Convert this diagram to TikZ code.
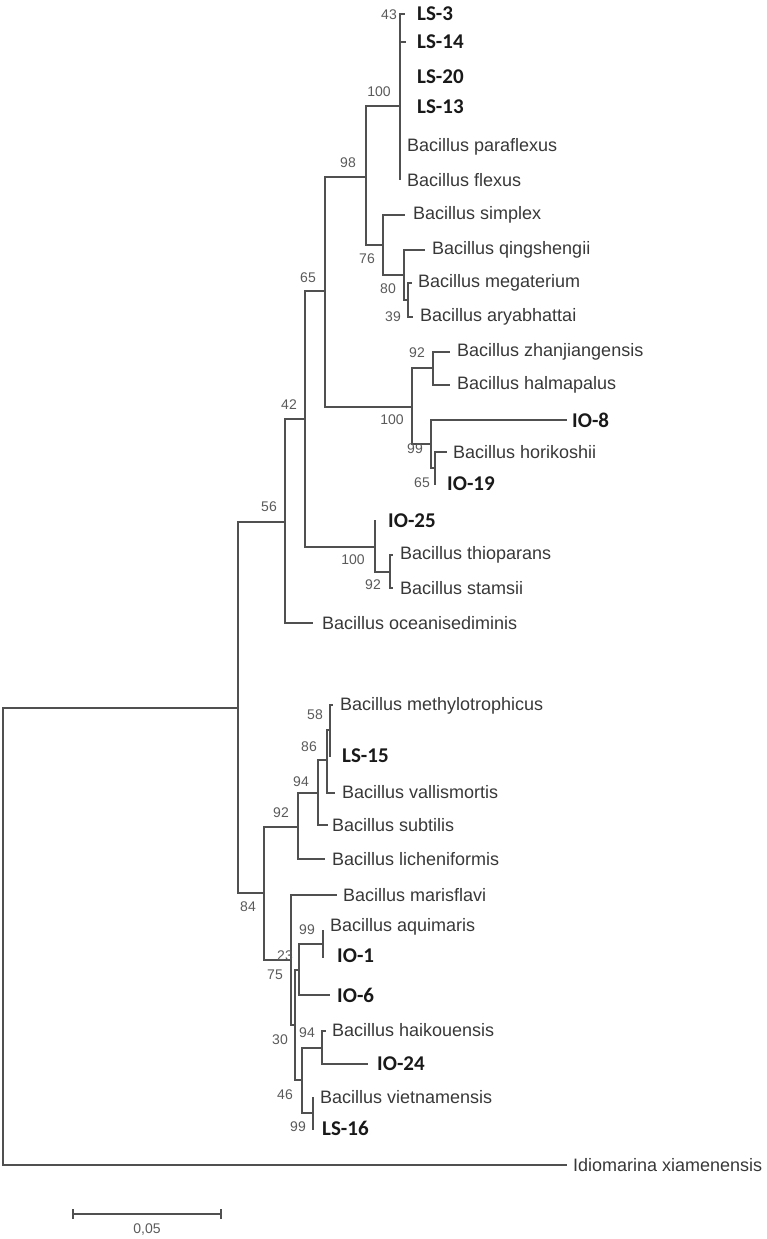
\documentclass[tikz,border=0pt]{standalone}
\usepackage{fontspec}
\setmainfont{Liberation Sans}
\newfontfamily\isofont{Carlito}
\usepackage{tikz}
\usepackage{xcolor}
\definecolor{linegray}{HTML}{505050}
\definecolor{taxgray}{HTML}{383838}
\definecolor{bootgray}{HTML}{5A5A5A}
\tikzset{
  branch/.style={draw=linegray,line width=1.3pt},
  taxon/.style={anchor=west,inner sep=0pt,text=taxgray,font=\fontsize{18}{20}\selectfont},
  isolate/.style={anchor=west,inner sep=0pt,text=black!90,font=\isofont\bfseries\fontsize{21}{24}\selectfont},
  boot/.style={inner sep=0pt,text=bootgray,font=\fontsize{14}{16}\selectfont}
}

\begin{document}
\begin{tikzpicture}[x=1pt,y=-1pt]
\useasboundingbox (0,0) rectangle (767,1239);
% Nos internos
\coordinate (root) at (3,936);
\coordinate (nA) at (238,708);
\coordinate (n56) at (285,522);
\coordinate (n42) at (305,419);
\coordinate (n65) at (325,291);
\coordinate (n98) at (366,177);
\coordinate (n100) at (400,106);
\coordinate (n76) at (383,245);
\coordinate (n80) at (404,275);
\coordinate (n39) at (408,300);
\coordinate (n100b) at (412,407);
\coordinate (n92) at (433,368);
\coordinate (n99) at (431,444);
\coordinate (n65b) at (435,468);
\coordinate (n100c) at (375,547);
\coordinate (n92c) at (390,572);
\coordinate (n84) at (264,893);
\coordinate (n92d) at (298,827);
\coordinate (n94) at (318,793);
\coordinate (n86) at (327,760);
\coordinate (n58) at (330,730);
\coordinate (n23) at (291,960);
\coordinate (n30) at (295,1025);
\coordinate (n75) at (299,970);
\coordinate (n99b) at (323,944);
\coordinate (n46) at (302,1080);
\coordinate (n94b) at (322,1048);
\coordinate (n99c) at (313,1113);
% Pontas dos ramos
\coordinate (ls3t) at (405,14);
\coordinate (ls14t) at (406,42);
\coordinate (ls20t) at (400,77);
\coordinate (ls13t) at (400,107);
\coordinate (paraflexust) at (400,147);
\coordinate (flexust) at (400,180);
\coordinate (simplext) at (405,215);
\coordinate (qingshengiit) at (425,250);
\coordinate (megateriumt) at (412,283);
\coordinate (aryabhattait) at (413,317);
\coordinate (zhanjiangensist) at (450,352);
\coordinate (halmapalust) at (450,385);
\coordinate (io8t) at (567,420);
\coordinate (horikoshiit) at (447,452);
\coordinate (io19t) at (436,484);
\coordinate (io25t) at (376,521);
\coordinate (thioparanst) at (393,555);
\coordinate (stamsiit) at (393,588);
\coordinate (oceanit) at (313,623);
\coordinate (methylot) at (333,705);
\coordinate (ls15t) at (330,757);
\coordinate (vallist) at (335,793);
\coordinate (subtilist) at (328,825);
\coordinate (lichenit) at (325,859);
\coordinate (marisflavit) at (337,895);
\coordinate (aquimarist) at (323,930);
\coordinate (io1t) at (323,958);
\coordinate (io6t) at (330,995);
\coordinate (haikouensist) at (326,1031);
\coordinate (io24t) at (368,1064);
\coordinate (vietnamt) at (313,1097);
\coordinate (ls16t) at (313,1130);
\coordinate (idiot) at (567,1165);
% Ramos
\draw[branch] (root) |- (nA);
\draw[branch] (root) |- (idiot);
\draw[branch] (nA) |- (n56);
\draw[branch] (nA) |- (n84);
\draw[branch] (n56) |- (n42);
\draw[branch] (n56) |- (oceanit);
\draw[branch] (n42) |- (n65);
\draw[branch] (n42) |- (n100c);
\draw[branch] (n65) |- (n98);
\draw[branch] (n65) |- (n100b);
\draw[branch] (n98) |- (n100);
\draw[branch] (n98) |- (n76);
\draw[branch] (n100) |- (ls3t);
\draw[branch] (n100) |- (ls14t);
\draw[branch] (n100) |- (ls20t);
\draw[branch] (n100) |- (ls13t);
\draw[branch] (n100) |- (paraflexust);
\draw[branch] (n100) |- (flexust);
\draw[branch] (n76) |- (simplext);
\draw[branch] (n76) |- (n80);
\draw[branch] (n80) |- (qingshengiit);
\draw[branch] (n80) |- (n39);
\draw[branch] (n39) |- (megateriumt);
\draw[branch] (n39) |- (aryabhattait);
\draw[branch] (n100b) |- (n92);
\draw[branch] (n100b) |- (n99);
\draw[branch] (n92) |- (zhanjiangensist);
\draw[branch] (n92) |- (halmapalust);
\draw[branch] (n99) |- (io8t);
\draw[branch] (n99) |- (n65b);
\draw[branch] (n65b) |- (horikoshiit);
\draw[branch] (n65b) |- (io19t);
\draw[branch] (n100c) |- (io25t);
\draw[branch] (n100c) |- (n92c);
\draw[branch] (n92c) |- (thioparanst);
\draw[branch] (n92c) |- (stamsiit);
\draw[branch] (n84) |- (n92d);
\draw[branch] (n84) |- (n23);
\draw[branch] (n92d) |- (n94);
\draw[branch] (n92d) |- (lichenit);
\draw[branch] (n94) |- (n86);
\draw[branch] (n94) |- (subtilist);
\draw[branch] (n86) |- (n58);
\draw[branch] (n86) |- (vallist);
\draw[branch] (n58) |- (methylot);
\draw[branch] (n58) |- (ls15t);
\draw[branch] (n23) |- (marisflavit);
\draw[branch] (n23) |- (n30);
\draw[branch] (n30) |- (n75);
\draw[branch] (n30) |- (n46);
\draw[branch] (n75) |- (n99b);
\draw[branch] (n75) |- (io6t);
\draw[branch] (n99b) |- (aquimarist);
\draw[branch] (n99b) |- (io1t);
\draw[branch] (n46) |- (n94b);
\draw[branch] (n46) |- (n99c);
\draw[branch] (n94b) |- (haikouensist);
\draw[branch] (n94b) |- (io24t);
\draw[branch] (n99c) |- (vietnamt);
\draw[branch] (n99c) |- (ls16t);
% Rotulos
\node[isolate] (ls3) at (417,14) {LS-3};
\node[isolate] (ls14) at (417,42) {LS-14};
\node[isolate] (ls20) at (417,77) {LS-20};
\node[isolate] (ls13) at (417,107) {LS-13};
\node[taxon] (paraflexus) at (407,147) {Bacillus paraflexus};
\node[taxon] (flexus) at (407,180) {Bacillus flexus};
\node[taxon] (simplex) at (413,215) {Bacillus simplex};
\node[taxon] (qingshengii) at (432,250) {Bacillus qingshengii};
\node[taxon] (megaterium) at (418,283) {Bacillus megaterium};
\node[taxon] (aryabhattai) at (420,317) {Bacillus aryabhattai};
\node[taxon] (zhanjiangensis) at (457,352) {Bacillus zhanjiangensis};
\node[taxon] (halmapalus) at (457,385) {Bacillus halmapalus};
\node[isolate] (io8) at (572,420) {IO-8};
\node[taxon] (horikoshii) at (453,452) {Bacillus horikoshii};
\node[isolate] (io19) at (447,484) {IO-19};
\node[isolate] (io25) at (388,521) {IO-25};
\node[taxon] (thioparans) at (400,555) {Bacillus thioparans};
\node[taxon] (stamsii) at (400,588) {Bacillus stamsii};
\node[taxon] (oceani) at (322,623) {Bacillus oceanisediminis};
\node[taxon] (methylo) at (340,706) {Bacillus methylotrophicus};
\node[isolate] (ls15) at (342,756) {LS-15};
\node[taxon] (vallis) at (342,792) {Bacillus vallismortis};
\node[taxon] (subtilis) at (332,825) {Bacillus subtilis};
\node[taxon] (licheni) at (332,859) {Bacillus licheniformis};
\node[taxon] (marisflavi) at (343,895) {Bacillus marisflavi};
\node[taxon] (aquimaris) at (330,927) {Bacillus aquimaris};
\node[isolate] (io1) at (337,956) {IO-1};
\node[isolate] (io6) at (337,995) {IO-6};
\node[taxon] (haikouensis) at (332,1030) {Bacillus haikouensis};
\node[isolate] (io24) at (377,1064) {IO-24};
\node[taxon] (vietnam) at (320,1097) {Bacillus vietnamensis};
\node[isolate] (ls16) at (322,1128) {LS-16};
\node[taxon] (idio) at (573,1165) {Idiomarina xiamenensis};
% Bootstrap
\node[boot] (b43) at (389,15) {43};
\node[boot] (b100) at (379,92) {100};
\node[boot] (b98) at (348,163) {98};
\node[boot] (b76) at (367,259) {76};
\node[boot] (b80) at (388,289) {80};
\node[boot] (b39) at (393,317) {39};
\node[boot] (b65) at (308,278) {65};
\node[boot] (b92) at (417,353) {92};
\node[boot] (b100b) at (392,420) {100};
\node[boot] (b99) at (415,449) {99};
\node[boot] (b65b) at (422,483) {65};
\node[boot] (b42) at (289,405) {42};
\node[boot] (b56) at (269,507) {56};
\node[boot] (b100c) at (353,560) {100};
\node[boot] (b92c) at (373,585) {92};
\node[boot] (b58) at (315,715) {58};
\node[boot] (b86) at (309,747) {86};
\node[boot] (b94) at (301,782) {94};
\node[boot] (b92d) at (281,813) {92};
\node[boot] (b84) at (248,907) {84};
\node[boot] (b23) at (285,956) {23};
\node[boot] (b75) at (275,975) {75};
\node[boot] (b99b) at (307,930) {99};
\node[boot] (b30) at (280,1040) {30};
\node[boot] (b94b) at (307,1033) {94};
\node[boot] (b46) at (285,1095) {46};
\node[boot] (b99c) at (298,1127) {99};
% Escala
\coordinate (sb1) at (73,1214);
\coordinate (sb2) at (221,1214);
\draw[branch] (sb1) -- (sb2);
\draw[branch] ([yshift=5pt]sb1) -- ([yshift=-5pt]sb1);
\draw[branch] ([yshift=5pt]sb2) -- ([yshift=-5pt]sb2);
\node[boot] (scale) at (147,1229) {0,05};
\end{tikzpicture}
\end{document}
